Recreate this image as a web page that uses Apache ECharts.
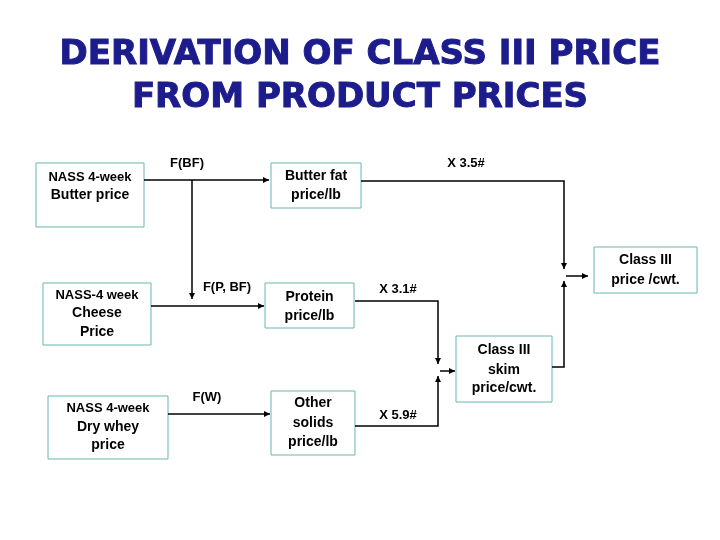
<!DOCTYPE html>
<html lang="en">
<head>
<meta charset="UTF-8">
<title>Class III price</title>
<script src="https://cdn.jsdelivr.net/npm/echarts@6/dist/echarts.min.js"></script>
<style>
  body { margin: 0; background: #fff; }
  #chart { width: 720px; height: 540px; }
</style>
</head>
<body>
<div id="chart"></div>
<script>
var titleLines = ['DERIVATION OF CLASS III PRICE', 'FROM PRODUCT PRICES'];

// box text: [small first line or '', big lines...]
var boxNames = ['butter', 'cheese', 'whey', 'fat', 'protein', 'solids', 'skim', 'class3'];
var boxSmall = ['NASS 4-week', 'NASS-4 week', 'NASS 4-week', '', '', '', '', ''];
var boxBig = [
    ['Butter price'], ['Cheese', 'Price'], ['Dry whey', 'price'],
    ['Butter fat', 'price/lb'], ['Protein', 'price/lb'], ['Other', 'solids', 'price/lb'],
    ['Class III', 'skim', 'price/cwt.'], ['Class III', 'price /cwt.']
];
var boxRects = [
    [36, 163, 108, 64], [43, 283, 108, 62], [48, 396, 120, 63],
    [271, 163, 90, 45], [265, 283, 89, 45], [271, 391, 84, 64],
    [456, 336, 96, 66], [594, 247, 103, 46]
];
var boxTextY = [
    [177, 195], [295, 313, 332], [408, 427, 445],
    [176, 195], [297, 316], [403, 423, 442],
    [350, 370, 388], [260, 280]
];

var flowLabels = ['F(BF)', 'F(P, BF)', 'F(W)', 'X 3.5#', 'X 3.1#', 'X 5.9#'];
var flowLabelPos = [[187, 163], [227, 287], [207, 397], [466, 163], [398, 289], [398, 415]];

// connector polylines; last segment ends in an arrow
var connectors = [
    [[144, 180], [269, 180]],
    [[192, 180], [192, 299]],
    [[151, 306], [264, 306]],
    [[168, 414], [270, 414]],
    [[361, 181], [564, 181], [564, 269]],
    [[355, 301], [438, 301], [438, 364]],
    [[355, 426], [438, 426], [438, 376]],
    [[440, 371], [455, 371]],
    [[552, 367], [564, 367], [564, 281]],
    [[566, 276], [588, 276]]
];

var g = [];
titleLines.forEach(function (t, i) {
    g.push({ type: 'text', x: 360, y: 55 + i * 43, style: {
        text: t, fill: '#1c1c8c', font: 'bold 34px "DejaVu Sans"', textAlign: 'center', textVerticalAlign: 'middle',
        stroke: '#1c1c8c', lineWidth: 1 } });
});
boxRects.forEach(function (r, i) {
    g.push({ type: 'rect', shape: { x: r[0], y: r[1], width: r[2], height: r[3] },
        style: { fill: 'none', stroke: '#66b8b0', lineWidth: 1 } });
    var lines = boxSmall[i] ? [boxSmall[i]].concat(boxBig[i]) : boxBig[i];
    lines.forEach(function (t, j) {
        var small = boxSmall[i] && j === 0;
        g.push({ type: 'text', x: r[0] + r[2] / 2, y: boxTextY[i][j], style: {
            text: t, fill: '#000', textAlign: 'center', textVerticalAlign: 'middle',
            font: 'bold ' + (small ? 13 : 14) + 'px "Liberation Sans"' } });
    });
});
flowLabels.forEach(function (t, i) {
    g.push({ type: 'text', x: flowLabelPos[i][0], y: flowLabelPos[i][1], style: {
        text: t, fill: '#000', textAlign: 'center', textVerticalAlign: 'middle',
        font: 'bold 13px "Liberation Sans"' } });
});
connectors.forEach(function (pts) {
    g.push({ type: 'polyline', shape: { points: pts }, style: { stroke: '#000', lineWidth: 1.5, fill: 'none' } });
    var a = pts[pts.length - 2], b = pts[pts.length - 1];
    var dx = Math.sign(b[0] - a[0]), dy = Math.sign(b[1] - a[1]);
    var L = 6, W = 3;
    g.push({ type: 'polygon', shape: { points: [
        [b[0], b[1]],
        [b[0] - dx * L - dy * W, b[1] - dy * L - dx * W],
        [b[0] - dx * L + dy * W, b[1] - dy * L + dx * W]
    ] }, style: { fill: '#000' } });
});

var chart = echarts.init(document.getElementById('chart'));
chart.setOption({ backgroundColor: '#fff', graphic: { elements: g } });
</script>
</body>
</html>
